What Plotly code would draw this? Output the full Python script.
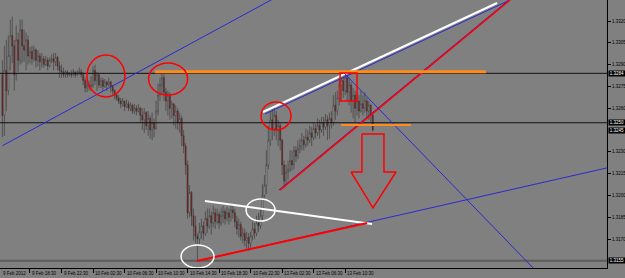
import plotly.graph_objects as go

# ---------------- data (EURUSD-like M15 chart) ----------------
first_open = 1.3283
closes = [1.3255,1.3286,1.3272,1.3296,1.3310,1.3303,1.3283,1.3307,1.3293,1.3314,
          1.3303,1.3300,1.3307,1.3296,1.3299,1.3294,1.3300,1.3293,1.3296,1.3292,
          1.3294,1.3290,1.3293,1.3289,1.3293,1.3294,1.3292,1.3295,1.3289,1.3286,
          1.3285,1.3283,1.3285,1.3283,1.3284,1.3283,1.3285,1.3283,1.3284,1.3285,
          1.3283,1.3279,1.3274,1.3276,1.3275,1.3276,1.3286,1.3279,1.3283,1.3276,
          1.3279,1.3275,1.3278,1.3276,1.3278,1.3275,1.3272,1.3269,1.3267,1.3265,
          1.3263,1.3265,1.3261,1.3263,1.3260,1.3262,1.3258,1.3260,1.3258,1.3260,
          1.3255,1.3252,1.3257,1.3248,1.3253,1.3245,1.3250,1.3246,1.3258,1.3269,
          1.3276,1.3281,1.3271,1.3265,1.3269,1.3260,1.3263,1.3255,1.3258,1.3250,
          1.3253,1.3241,1.3234,1.3221,1.3188,1.3202,1.3186,1.3179,1.3172,1.3170,
          1.3175,1.3179,1.3174,1.3184,1.3179,1.3186,1.3181,1.3188,1.3182,1.3187,
          1.3181,1.3186,1.3189,1.3184,1.3188,1.3185,1.3190,1.3188,1.3182,1.3177,
          1.3180,1.3172,1.3174,1.3169,1.3171,1.3167,1.3172,1.3177,1.3174,1.3181,
          1.3179,1.3186,1.3200,1.3207,1.3221,1.3238,1.3252,1.3246,1.3255,1.3245,
          1.3248,1.3238,1.3221,1.3210,1.3216,1.3218,1.3224,1.3221,1.3231,1.3227,
          1.3232,1.3234,1.3238,1.3235,1.3240,1.3238,1.3243,1.3240,1.3246,1.3243,
          1.3248,1.3245,1.3250,1.3247,1.3252,1.3248,1.3253,1.3250,1.3262,1.3258,
          1.3267,1.3276,1.3279,1.3272,1.3281,1.3271,1.3276,1.3265,1.3269,1.3260,
          1.3265,1.3258,1.3263,1.3260,1.3265,1.3258,1.3262,1.3255,1.3245]
highs = [1.3293,1.3303,1.3307,1.3310,1.3321,1.3323,1.3307,1.3317,1.3312,1.3321,
         1.3321,1.3314,1.3312,1.3310,1.3302,1.3303,1.3303,1.3301,1.3300,1.3298,
         1.3298,1.3296,1.3296,1.3295,1.3295,1.3297,1.3298,1.3298,1.3296,1.3292,
         1.3290,1.3288,1.3286,1.3286,1.3285,1.3286,1.3287,1.3285,1.3286,1.3288,
         1.3287,1.3285,1.3281,1.3279,1.3279,1.3282,1.3289,1.3290,1.3285,1.3284,
         1.3281,1.3281,1.3280,1.3279,1.3281,1.3279,1.3276,1.3273,1.3270,1.3269,
         1.3267,1.3267,1.3265,1.3266,1.3265,1.3264,1.3263,1.3263,1.3262,1.3263,
         1.3261,1.3260,1.3260,1.3258,1.3258,1.3255,1.3257,1.3253,1.3265,1.3277,
         1.3281,1.3285,1.3283,1.3274,1.3272,1.3271,1.3265,1.3263,1.3262,1.3260,
         1.3257,1.3255,1.3245,1.3236,1.3224,1.3207,1.3203,1.3191,1.3186,1.3174,
         1.3181,1.3184,1.3182,1.3189,1.3191,1.3191,1.3189,1.3193,1.3191,1.3191,
         1.3189,1.3191,1.3193,1.3191,1.3192,1.3191,1.3194,1.3194,1.3191,1.3186,
         1.3184,1.3182,1.3178,1.3177,1.3175,1.3174,1.3175,1.3182,1.3181,1.3186,
         1.3188,1.3191,1.3208,1.3214,1.3231,1.3248,1.3258,1.3260,1.3261,1.3258,
         1.3252,1.3250,1.3239,1.3224,1.3221,1.3224,1.3231,1.3231,1.3234,1.3234,
         1.3238,1.3239,1.3243,1.3241,1.3246,1.3245,1.3248,1.3247,1.3250,1.3249,
         1.3253,1.3252,1.3254,1.3254,1.3256,1.3255,1.3257,1.3258,1.3269,1.3271,
         1.3272,1.3281,1.3283,1.3284,1.3285,1.3282,1.3281,1.3278,1.3274,1.3272,
         1.3271,1.3269,1.3272,1.3269,1.3271,1.3267,1.3265,1.3263,1.3256]
lows = [1.3240,1.3241,1.3258,1.3269,1.3286,1.3291,1.3272,1.3279,1.3285,1.3290,
        1.3291,1.3292,1.3286,1.3290,1.3291,1.3290,1.3292,1.3288,1.3289,1.3286,
        1.3288,1.3288,1.3289,1.3286,1.3288,1.3291,1.3286,1.3289,1.3286,1.3281,
        1.3281,1.3281,1.3281,1.3281,1.3282,1.3281,1.3282,1.3281,1.3282,1.3283,
        1.3281,1.3276,1.3271,1.3271,1.3272,1.3272,1.3274,1.3276,1.3272,1.3274,
        1.3274,1.3272,1.3274,1.3272,1.3275,1.3271,1.3269,1.3266,1.3265,1.3263,
        1.3260,1.3261,1.3258,1.3260,1.3258,1.3258,1.3256,1.3256,1.3255,1.3257,
        1.3250,1.3245,1.3243,1.3245,1.3241,1.3239,1.3238,1.3240,1.3245,1.3255,
        1.3265,1.3269,1.3265,1.3258,1.3255,1.3252,1.3253,1.3248,1.3246,1.3245,
        1.3243,1.3234,1.3229,1.3214,1.3184,1.3185,1.3179,1.3169,1.3167,1.3155,
        1.3165,1.3170,1.3169,1.3172,1.3174,1.3177,1.3173,1.3178,1.3177,1.3180,
        1.3177,1.3179,1.3181,1.3180,1.3182,1.3180,1.3182,1.3184,1.3178,1.3173,
        1.3171,1.3169,1.3167,1.3165,1.3163,1.3162,1.3164,1.3169,1.3170,1.3172,
        1.3175,1.3177,1.3182,1.3198,1.3201,1.3218,1.3234,1.3238,1.3241,1.3238,
        1.3234,1.3231,1.3214,1.3205,1.3207,1.3211,1.3216,1.3217,1.3218,1.3223,
        1.3225,1.3229,1.3231,1.3231,1.3233,1.3234,1.3236,1.3234,1.3238,1.3239,
        1.3241,1.3239,1.3243,1.3241,1.3245,1.3238,1.3239,1.3246,1.3248,1.3252,
        1.3255,1.3262,1.3265,1.3267,1.3269,1.3265,1.3262,1.3257,1.3253,1.3250,
        1.3255,1.3253,1.3257,1.3255,1.3257,1.3254,1.3252,1.3250,1.3244]
opens = [first_open] + closes[:-1]
bars = list(range(len(closes)))

time_ticks = [14, 30, 46, 62, 78, 94, 110, 126, 142, 158, 174]
time_labels = ["9 Feb 18:30", "9 Feb 22:30", "10 Feb 02:30", "10 Feb 06:30",
               "10 Feb 10:30", "10 Feb 14:30", "10 Feb 18:30", "10 Feb 22:30",
               "13 Feb 02:30", "13 Feb 06:30", "13 Feb 10:30"]
first_label = "9 Feb 2012"
price_ticks = [1.3320, 1.3305, 1.3290, 1.3275, 1.3260, 1.3230, 1.3215, 1.3200, 1.3185, 1.3170]
marked_prices = [1.3284, 1.3250, 1.3245, 1.3155]
black_levels = [1.3284, 1.3250]
gray_level = 1.3155

# drawn objects: (bar index, price)
blue_a_bars, blue_a_prices = [0, 140], [1.32342, 1.33371]
blue_up_bars, blue_up_prices = [133.3, 257.7], [1.32560, 1.33345]
white_up_bars, white_up_prices = [132.3, 251.1], [1.32574, 1.33324]
red_up_bars, red_up_prices = [140.9, 257.7], [1.32037, 1.33345]
blue_down_bars, blue_down_prices = [173.4, 272.9], [1.32842, 1.31452]
blue_low_bars, blue_low_prices = [98.8, 310.0], [1.31549, 1.32199]
red_low_bars, red_low_prices = [98.8, 185.1], [1.31549, 1.31810]
white_low_bars, white_low_prices = [102.8, 187.6], [1.31962, 1.31803]
orange_up_bars, orange_up_price = [77.5, 245.5], 1.32851
orange_low_bars, orange_low_price = [171.9, 207.4], 1.32484
box_bars, box_prices = [171.4, 180.0], [1.32650, 1.32842]
arrow_bars = [182.5, 193.7, 193.7, 199.8, 188.1, 177.0, 182.5, 182.5]
arrow_prices = [1.32423, 1.32423, 1.32161, 1.32161, 1.31914, 1.32161, 1.32161, 1.32423]
red_ellipses = [(42.9, 62.2, 1.32677, 1.32966), (74.2, 94.0, 1.32691, 1.32911),
                (131.3, 146.5, 1.32450, 1.32643)]
white_ellipses = [(123.7, 138.4, 1.31824, 1.31975), (90.7, 107.4, 1.31501, 1.31659)]

BG = "#808080"
FONT = "Liberation Sans, Arial, sans-serif"
X_RANGE = [-1.22, 306.9]
Y_RANGE = [1.315007, 1.333445]

fig = go.Figure()

def line(xs, ys, color, width):
    fig.add_trace(go.Scatter(x=xs, y=ys, mode="lines", hoverinfo="skip",
                             line=dict(color=color, width=width)))

# horizontal levels under candles
for lv in black_levels:
    line(X_RANGE, [lv, lv], "#111111", 1)
line(X_RANGE, [gray_level, gray_level], "#5c5c5c", 2)

fig.add_trace(go.Candlestick(
    x=bars, open=opens, high=highs, low=lows, close=closes,
    increasing=dict(line=dict(color="#333333", width=0.6), fillcolor="#dcdcdc"),
    decreasing=dict(line=dict(color="#333333", width=0.6), fillcolor="#b00c0c"),
    whiskerwidth=0, hoverinfo="skip"))

# trend lines
line(blue_a_bars, blue_a_prices, "#2a2ad0", 1)
line(blue_up_bars, blue_up_prices, "#2a2ad0", 1)
line(white_up_bars, white_up_prices, "#ffffff", 2)
line([b - 0.6 for b in red_up_bars], red_up_prices, "#2a2ad0", 1)
line(red_up_bars, red_up_prices, "#ff0000", 1.5)
line(blue_down_bars, blue_down_prices, "#2a2ad0", 1)
line(blue_low_bars, blue_low_prices, "#2a2ad0", 1)
line(white_low_bars, white_low_prices, "#ffffff", 2)
line(red_low_bars, red_low_prices, "#ff0000", 2)
line(orange_up_bars, [orange_up_price] * 2, "#ff8c1a", 3)
line(orange_low_bars, [orange_low_price] * 2, "#ff8c1a", 2)
line(arrow_bars, arrow_prices, "#ff0000", 1.5)

shapes = [dict(type="rect", xref="x", yref="y", x0=box_bars[0], x1=box_bars[1],
               y0=box_prices[0], y1=box_prices[1], line=dict(color="#ff0000", width=1.5))]
for x0, x1, y0, y1 in red_ellipses:
    shapes.append(dict(type="circle", xref="x", yref="y", x0=x0, x1=x1, y0=y0, y1=y1,
                       line=dict(color="#ff0000", width=1.5)))
for x0, x1, y0, y1 in white_ellipses:
    shapes.append(dict(type="circle", xref="x", yref="y", x0=x0, x1=x1, y0=y0, y1=y1,
                       line=dict(color="#ffffff", width=1.5)))

annotations = []
annotations.append(dict(x=0, xref="paper", y=0, yref="paper", xanchor="left", yanchor="top",
                        text=first_label, showarrow=False, xshift=1, yshift=-1,
                        font=dict(size=4.5, color="black", family=FONT)))
for t, lab in zip(time_ticks, time_labels):
    annotations.append(dict(x=t, xref="x", y=0, yref="paper", xanchor="left", yanchor="top",
                            text=lab, showarrow=False, xshift=0, yshift=-1,
                            font=dict(size=4.5, color="black", family=FONT)))
for p in marked_prices:
    annotations.append(dict(x=1, xref="paper", y=p, yref="y", xanchor="left", yanchor="middle",
                            text=f"{p:.4f}", showarrow=False, xshift=1, bgcolor="black",
                            borderpad=0, width=16, font=dict(size=4.5, color="white", family=FONT)))

fig.update_layout(
    width=625, height=278, margin=dict(l=0, r=18, t=0, b=10),
    paper_bgcolor=BG, plot_bgcolor=BG, showlegend=False,
    shapes=shapes, annotations=annotations,
    xaxis=dict(range=X_RANGE, showgrid=False, zeroline=False, showline=True,
               linecolor="black", linewidth=1, ticks="outside", ticklen=4,
               tickcolor="black", tickvals=time_ticks, showticklabels=False,
               rangeslider=dict(visible=False), fixedrange=True),
    yaxis=dict(range=Y_RANGE, side="right", showgrid=False, zeroline=False,
               showline=True, linecolor="black", linewidth=1, ticks="outside",
               ticklen=3, tickcolor="black", tickvals=price_ticks,
               ticktext=[f"{p:.4f}" for p in price_ticks],
               tickfont=dict(size=4.5, color="black", family=FONT), fixedrange=True),
)

fig.write_html("out.html")
